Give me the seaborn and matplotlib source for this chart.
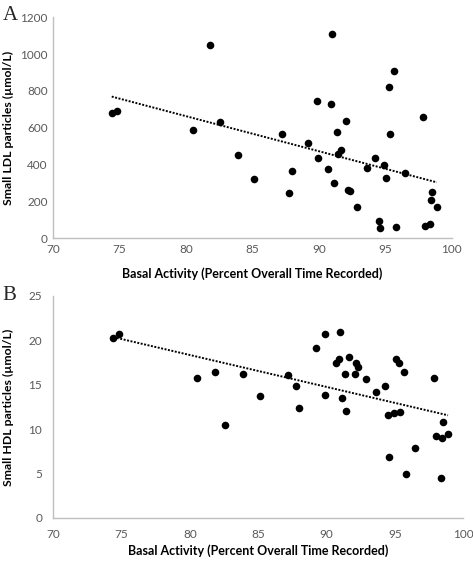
import matplotlib
matplotlib.use("Agg")
import matplotlib.pyplot as plt
import seaborn as sns
import numpy as np
import pandas as pd

# Basal activity (% of overall recorded time), shared by both panels
basal = [74.4, 74.8, 80.5, 81.8, 82.55, 83.9, 85.1, 87.2, 87.75, 88.0,
         89.2, 89.85, 89.9, 90.65, 90.9, 91.0, 91.12, 91.38, 91.4, 91.65,
         92.05, 92.17, 92.33, 92.87, 93.63, 94.25, 94.52, 94.58, 94.93, 95.04,
         95.26, 95.35, 95.68, 95.84, 96.48, 97.82, 98.02, 98.34, 98.47, 98.51,
         98.88]

# Panel A: small LDL particles (umol/L)
small_ldl = [683, 690, 588, 1048, 631, 451, 322, 568, 246, 365,
             519, 745, 434, 376, 727, 1109, 302, 575, 459, 478,
             639, 262, 255, 168, 380, 434, 96, 54, 400, 329,
             820, 565, 907, 60, 356, 657, 67, 79, 208, 250,
             168]

# Panel B: small HDL particles (umol/L)
small_hdl = [20.3, 20.68, 15.72, 16.4, 10.49, 16.2, 13.7, 16.09, 14.85, 12.35,
             19.17, 13.8, 20.68, 17.48, 17.86, 20.9, 13.5, 16.24, 12.0, 18.09,
             16.24, 17.48, 17.03, 15.6, 14.21, 14.89, 11.58, 6.81, 11.77, 17.86,
             17.48, 11.88, 16.43, 4.93, 7.9, 15.72, 9.21, 4.48, 8.99, 10.79,
             9.4]

x_ticks = [70, 75, 80, 85, 90, 95, 100]
ldl_ticks = [0, 200, 400, 600, 800, 1000, 1200]
hdl_ticks = [0, 5, 10, 15, 20, 25]

xlabel = "Basal Activity (Percent Overall Time Recorded)"

df = pd.DataFrame({"basal": basal, "ldl": small_ldl, "hdl": small_hdl})

sns.set_style("white")
plt.rcParams["font.family"] = ["Lato", "DejaVu Sans"]

axis_grey = "#BFBFBF"
text_grey = "#595959"

fig = plt.figure(figsize=(4.73, 5.61), dpi=100)
ax_a = fig.add_axes([0.1127, 0.5752, 0.8423, 0.3940])
ax_b = fig.add_axes([0.1127, 0.0772, 0.8668, 0.3952])


def draw_panel(ax, col, yticks, ylabel, show_ticks):
    # dotted linear trendline, then the points on top
    sns.regplot(data=df, x="basal", y=col, ax=ax, scatter=False, ci=None,
                line_kws={"color": "black", "lw": 1.4, "ls": (0, (1, 0.8))})
    sns.scatterplot(data=df, x="basal", y=col, ax=ax, color="black",
                    s=30, edgecolor="black", linewidth=0, zorder=3)
    ax.set_xlim(70, 100)
    ax.set_ylim(yticks[0], yticks[-1])
    ax.set_xticks(x_ticks)
    ax.set_yticks(yticks)
    for side in ["top", "right"]:
        ax.spines[side].set_visible(False)
    for side in ["left", "bottom"]:
        ax.spines[side].set_color(axis_grey)
        ax.spines[side].set_linewidth(1.0)
    ax.tick_params(colors=text_grey, labelsize=8.5,
                   length=4 if show_ticks else 0, width=1.0,
                   direction="out", pad=4)
    ax.tick_params(axis="both", color=axis_grey)
    ax.set_xlabel(xlabel, fontsize=9, fontweight="bold", color="black")
    ax.set_ylabel(ylabel, fontsize=8.8, fontweight="bold", color="black")


draw_panel(ax_a, "ldl", ldl_ticks, "Small LDL particles (\u00b5mol/L)", False)
draw_panel(ax_b, "hdl", hdl_ticks, "Small HDL particles (\u00b5mol/L)", True)
ax_a.xaxis.set_label_coords(0.5, -0.13)
ax_b.xaxis.set_label_coords(0.5, -0.12)
ax_a.yaxis.set_label_coords(-0.098, 0.5)
ax_b.yaxis.set_label_coords(-0.095, 0.5)

fig.text(0.006, 0.972, "A", family="Liberation Serif", fontsize=15, va="center")
fig.text(0.006, 0.473, "B", family="Liberation Serif", fontsize=15, va="center")

fig.savefig("out.png", dpi=100)
